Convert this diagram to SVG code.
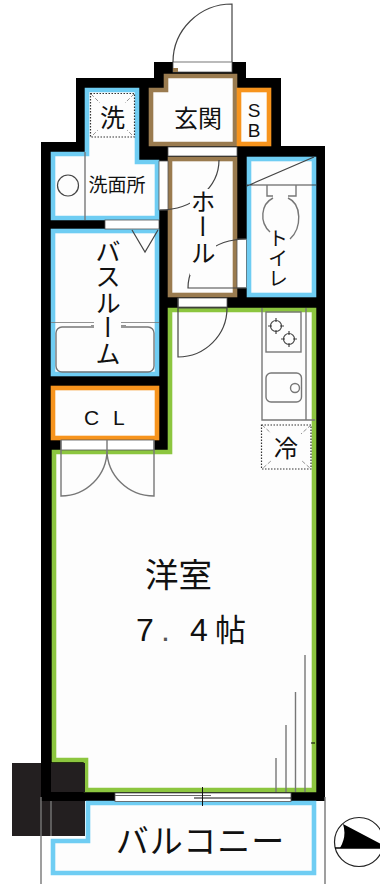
<svg xmlns="http://www.w3.org/2000/svg" width="380" height="884" viewBox="0 0 380 884">
<style>
.room{fill:#fdfdfd;stroke-width:4.600;stroke-linejoin:miter}
.blue{stroke:#6fcdf3}.brown{stroke:#9a7b4f}.orange{stroke:#f7941d}.green{stroke:#8cc63f}
.gap{fill:#fff;stroke:#555;stroke-width:.8}
.ln{fill:none;stroke:#444;stroke-width:1.2}
.gr{fill:none;stroke:#777;stroke-width:1.4}
.tub{fill:none;stroke:#777;stroke-width:.8}
.dot{fill:none;stroke:#333;stroke-width:1.2;stroke-dasharray:1.5 1.5}
.thin{fill:none;stroke:#777;stroke-width:.8;stroke-dasharray:4 2}
.pat{fill:#fdfdfd;stroke:none}
text{font-family:"Noto Sans CJK JP","Noto Sans",sans-serif;fill:#111}
.v{writing-mode:vertical-rl;text-anchor:middle}
.lat{font-family:"Liberation Sans",Arial,sans-serif}
</style>
<rect width="380" height="884" fill="#fff"/>
<rect id="dark-square" x="12" y="763" width="73" height="73" fill="#231f20"/>
<path id="walls" fill="#000" d="M41,142H76V78H154V62H246V78H281V146H325V801H41Z"/>
<g id="balcony">
<path class="gr" d="M41,797V884M325,797V884M51,801V836"/>
<path d="M86,801H316V875H51V841H88Z" fill="#555"/>
<path class="room blue" d="M88,803H314V873H53V841H88Z"/>
<text x="200.500" y="853" font-size="33" text-anchor="middle" letter-spacing="1">バルコニー</text>
</g>
<g id="wash">
<path class="room blue" d="M87,90H137V162H157V218H53V154H87Z"/>
<path class="gr" d="M85,152V220"/>
<rect class="dot" x="90.500" y="93.500" width="44" height="43.500"/>
<path class="thin" d="M91,94L134,137M134,94L91,137"/>
<rect class="pat" x="98" y="103" width="29" height="28"/>
<text x="112.500" y="127" font-size="25" text-anchor="middle">洗</text>
<circle cx="68" cy="185.500" r="10.500" class="ln"/>
<text x="117" y="192" font-size="19" text-anchor="middle">洗面所</text>
</g>
<g id="entrance">
<path class="room brown" d="M166,76H235V144H151V90H166Z"/>
<rect class="gap" x="173" y="62" width="59" height="10"/>
<rect x="173" y="68" width="5" height="4" fill="#9a7b4f"/>
<path class="ln" d="M173,62A59,58 0 0 1 232,4V62"/>
<text x="198" y="127" font-size="24" text-anchor="middle">玄関</text>
</g>
<g id="sb">
<rect class="room orange" x="239" y="90" width="30" height="54"/>
<text class="lat" x="254" y="117" font-size="19" text-anchor="middle">S</text>
<text class="lat" x="254" y="137" font-size="19" text-anchor="middle">B</text>
</g>
<g id="hall">
<rect class="room brown" x="170" y="159" width="65" height="136"/>
<rect class="gap" x="168" y="147" width="69" height="9"/>
<rect class="gap" x="159" y="161" width="9" height="49"/>
<rect class="gap" x="237" y="239" width="9.500" height="49"/>
<path class="ln" d="M219,160A59,50 0 0 1 160,210"/>
<path class="ln" d="M246,239A58,49 0 0 0 188,288H246"/>
<rect class="pat" x="190" y="189" width="26" height="86"/>
<text class="v" x="203" y="227" font-size="25" letter-spacing="0.500">ホール</text>
</g>
<g id="toilet">
<rect class="room blue" x="249" y="159" width="65" height="136"/>
<path class="ln" d="M247,185H316M247,186L314,157"/>
<path class="gr" d="M267,185V196H273M296,185V196H288"/>
<path class="gr" d="M273,198C261,204 259,222 270,232M288,198C302,204 302,228 290,239"/>
<text class="v" x="278" y="258" font-size="20">トイレ</text>
</g>
<g id="bath">
<rect class="room blue" x="53" y="231" width="104" height="143"/>
<rect class="gap" x="105" y="220" width="54" height="9"/>
<path class="ln" d="M132,230L145,252L158,230"/>
<path class="tub" d="M51,322.500H159M91,325.500H126"/>
<rect class="gr" x="56" y="327" width="98" height="45" rx="6"/>
<rect class="pat" x="94" y="318" width="27" height="46"/>
<text class="v" x="108" y="302" font-size="25.500">バスルーム</text>
</g>
<g id="closet">
<rect class="room orange" x="53" y="388" width="104" height="50"/>
<text class="lat" x="84 113" y="424.500" font-size="21">CL</text>
</g>
<g id="room">
<path class="room green" d="M170,310H314V790H86V760H54V452H170Z"/>
<rect x="51" y="763" width="34" height="29" fill="#231f20"/>
<rect class="gap" x="61" y="440" width="93" height="10"/>
<path class="gr" d="M61,440V496A46,46 0 0 0 107,450V440M154,440V496A47,46 0 0 1 107,450"/>
<rect class="gap" x="178" y="298" width="49" height="9"/>
<path class="ln" d="M178,298V357A49,49 0 0 0 227,308H178"/>
<text x="178.500" y="587" font-size="33.500" text-anchor="middle">洋室</text>
<text y="641"><tspan class="lat" x="136" font-size="32">7</tspan><tspan class="lat" x="161" font-size="32" fill="#555">.</tspan><tspan class="lat" x="190" font-size="32">4</tspan><tspan x="215" font-size="31">帖</tspan></text>
</g>
<g id="kitchen">
<path class="gr" d="M262,308V420H315M306,308V420"/>
<rect class="gr" x="266" y="312" width="35" height="40"/>
<circle class="ln" cx="276" cy="326" r="5.500"/>
<circle class="ln" cx="289" cy="339" r="5.500"/>
<path class="ln" d="M276,318V322M276,330V334M268,326H272M280,326H284M289,331V335M289,343V347M281,339H285M293,339H297"/>
<rect class="gr" x="266" y="373" width="35.500" height="29" rx="5"/>
<circle class="gr" cx="295" cy="388" r="4.500"/>
<rect class="dot" x="261.500" y="425" width="49.500" height="44"/>
<path class="thin" d="M262,425L311,469M311,425L262,469"/>
<rect class="pat" x="271" y="433" width="30" height="29"/>
<text x="286" y="456.500" font-size="24" text-anchor="middle">冷</text>
</g>
<g id="window">
<rect class="gap" x="115" y="793" width="176" height="8.500"/>
<path d="M115,795.500H211" stroke="#666" stroke-width="1" fill="none"/>
<path d="M194,798H291M202.500,787V806" stroke="#111" stroke-width="1" fill="none"/>
<path class="gr" d="M276,758V792M286,725V792M295.500,692V792M305,655V792"/>
<path d="M311,743H315" stroke="#000" stroke-width="1"/>
</g>
<g id="north">
<circle cx="359" cy="842" r="24.500" fill="#fff" stroke="#222" stroke-width="1.200"/>
<path d="M343,824L381,844V848H340Q347,836 343,824Z" fill="#000"/>
<path d="M335,848H380" stroke="#000" stroke-width="1.500"/>
</g>
</svg>
